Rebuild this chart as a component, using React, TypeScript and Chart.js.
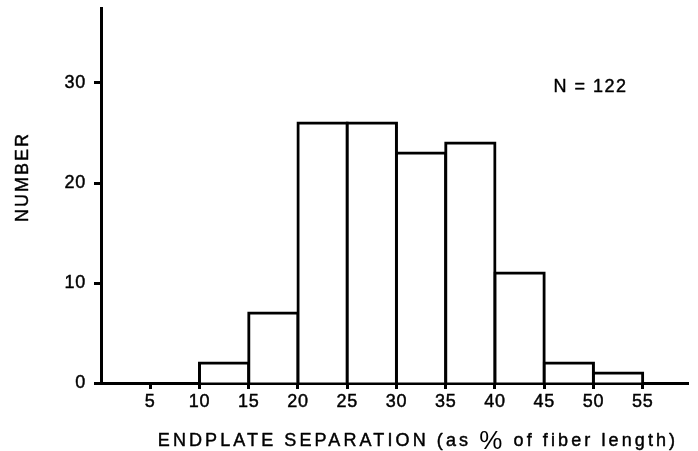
import React, { useEffect, useRef } from "react";
import { Chart, registerables } from "chart.js";

Chart.register(...registerables);

// Histogram bins (lower edge, % of fiber length) and their counts
const binStarts = [10, 15, 20, 25, 30, 35, 40, 45, 50];
const binWidth = 5;
const counts = [2, 7, 26, 26, 23, 24, 11, 2, 1];

const xTickValues = [5, 10, 15, 20, 25, 30, 35, 40, 45, 50, 55];
const yTickValues = [0, 10, 20, 30];

const xMin = 0;
const xMax = 59.6;
const yMin = 0;
const yMax = 37.5;

const yTitle = "NUMBER";
const xTitleBefore = "ENDPLATE SEPARATION (as ";
const xTitlePercent = "%";
const xTitleAfter = " of fiber length)";
const sampleLabel = "N = 122";
const sampleLabelPos = { x: 49.7, y: 29.6 };

const FONT = "'Liberation Sans', Arial, Helvetica, sans-serif";
const INK_WEIGHT = 0.45;

function inkText(ctx: CanvasRenderingContext2D, text: string, x: number, y: number) {
  ctx.fillText(text, x, y);
  ctx.strokeText(text, x, y);
}

// Slightly wider letter spacing for the tick labels
const spacingPlugin = {
  id: "tickSpacing",
  beforeDraw(chart: any) {
    (chart.ctx as any).letterSpacing = "0.8px";
  },
};

const textPlugin = {
  id: "histTexts",
  afterDraw(chart: any) {
    const ctx = chart.ctx as CanvasRenderingContext2D;
    ctx.save();
    ctx.fillStyle = "#000";
    ctx.strokeStyle = "#000";
    ctx.lineWidth = INK_WEIGHT;
    ctx.lineJoin = "round";

    // Vertical axis title
    ctx.save();
    ctx.translate(23, 178);
    ctx.rotate(-Math.PI / 2);
    ctx.font = `18px ${FONT}`;
    (ctx as any).letterSpacing = "2px";
    ctx.textAlign = "center";
    ctx.textBaseline = "middle";
    inkText(ctx, yTitle, 1, 0);
    ctx.restore();

    // Horizontal axis title, with an enlarged percent sign
    ctx.save();
    (ctx as any).letterSpacing = "3.1px";
    ctx.textBaseline = "alphabetic";
    ctx.textAlign = "left";
    const smallFont = `18px ${FONT}`;
    const bigFont = `26px ${FONT}`;
    ctx.font = smallFont;
    const w1 = ctx.measureText(xTitleBefore).width;
    const w3 = ctx.measureText(xTitleAfter).width;
    ctx.font = bigFont;
    const w2 = ctx.measureText(xTitlePercent).width;
    const total = w1 + w2 + w3;
    let x = 418 - total / 2;
    const baseY = 446;
    ctx.font = smallFont;
    inkText(ctx, xTitleBefore, x, baseY);
    x += w1;
    ctx.font = bigFont;
    ctx.fillText(xTitlePercent, x, baseY + 3);
    x += w2;
    ctx.font = smallFont;
    inkText(ctx, xTitleAfter, x, baseY);
    ctx.restore();

    // Sample size note
    const xs = chart.scales.x;
    const ys = chart.scales.y;
    ctx.save();
    ctx.font = `18px ${FONT}`;
    (ctx as any).letterSpacing = "1.5px";
    ctx.textAlign = "center";
    ctx.textBaseline = "middle";
    inkText(
      ctx,
      sampleLabel,
      xs.getPixelForValue(sampleLabelPos.x),
      ys.getPixelForValue(sampleLabelPos.y)
    );
    ctx.restore();

    ctx.restore();
  },
};

export default function App() {
  const canvasRef = useRef<HTMLCanvasElement | null>(null);

  useEffect(() => {
    const canvas = canvasRef.current;
    if (!canvas) return;

    const data = binStarts.map((start, i) => ({
      x: start + binWidth / 2,
      y: counts[i],
    }));

    const tickFont = { family: FONT, size: 18 };

    const chart = new Chart(canvas, {
      type: "bar",
      data: {
        datasets: [
          {
            data,
            backgroundColor: "#ffffff",
            borderColor: "#000000",
            borderWidth: 3,
            inflateAmount: 1.5,
            borderSkipped: "start",
            categoryPercentage: 1,
            barPercentage: 1,
          } as any,
        ],
      },
      options: {
        animation: false,
        responsive: false,
        maintainAspectRatio: false,
        events: [],
        layout: { padding: { left: 0, top: 8, right: 10, bottom: 0 } },
        plugins: {
          legend: { display: false },
          tooltip: { enabled: false },
          title: { display: false },
        },
        scales: {
          x: {
            type: "linear",
            min: xMin,
            max: xMax,
            offset: false,
            z: 1,
            afterFit(scale: any) {
              scale.height = 68;
              scale.paddingLeft = 0;
              scale.paddingRight = 0;
            },
            afterBuildTicks(scale: any) {
              scale.ticks = xTickValues.map((v) => ({ value: v }));
            },
            grid: {
              offset: false,
              drawOnChartArea: false,
              drawTicks: true,
              tickLength: 6,
              tickWidth: 3,
              tickColor: "#000",
            },
            border: { display: true, color: "#000", width: 3 },
            ticks: {
              color: "#000",
              font: tickFont,
              padding: 2,
              maxRotation: 0,
              autoSkip: false,
              textStrokeColor: "#000",
              textStrokeWidth: INK_WEIGHT,
            },
          } as any,
          y: {
            type: "linear",
            min: yMin,
            max: yMax,
            z: 1,
            afterFit(scale: any) {
              scale.width = 101;
              scale.paddingTop = 0;
              scale.paddingBottom = 0;
            },
            afterBuildTicks(scale: any) {
              scale.ticks = yTickValues.map((v) => ({ value: v }));
            },
            grid: {
              drawOnChartArea: false,
              drawTicks: true,
              tickLength: 7,
              tickWidth: 3,
              tickColor: "#000",
            },
            border: { display: true, color: "#000", width: 3 },
            ticks: {
              color: "#000",
              font: tickFont,
              padding: 8,
              autoSkip: false,
              textStrokeColor: "#000",
              textStrokeWidth: INK_WEIGHT,
            },
          } as any,
        },
      },
      plugins: [spacingPlugin, textPlugin],
    });

    return () => chart.destroy();
  }, []);

  return (
    <div
      style={{
        position: "fixed",
        left: 0,
        top: 0,
        width: 698,
        height: 451,
        background: "#ffffff",
      }}
    >
      <canvas ref={canvasRef} width={698} height={451} style={{ display: "block" }} />
    </div>
  );
}
